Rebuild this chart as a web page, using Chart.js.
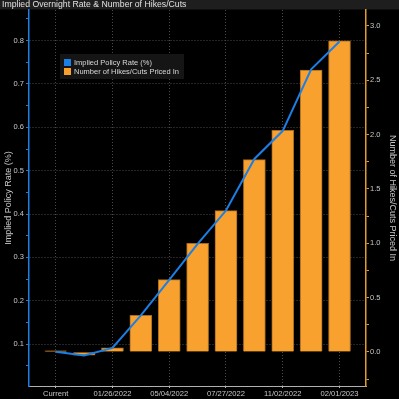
<!DOCTYPE html>
<html>
<head>
<meta charset="utf-8">
<script src="https://cdn.jsdelivr.net/npm/chart.js@4/dist/chart.umd.min.js"></script>
<style>
html,body{margin:0;padding:0;background:#000;}
canvas{display:block;}
</style>
</head>
<body>
<canvas id="c" width="399" height="399"></canvas>
<script>
// ---- data ----
const categories = ['Current', '', '01/26/2022', '', '05/04/2022', '', '07/27/2022', '', '11/02/2022', '', '02/01/2023'];
const impliedRate = [0.082, 0.0735, 0.091, 0.166, 0.248, 0.331, 0.408, 0.527, 0.592, 0.734, 0.798];
const hikesCuts = [0.01, -0.031, 0.037, 0.336, 0.665, 1.00, 1.30, 1.77, 2.04, 2.595, 2.864];
const xTickIdx = [0, 2, 4, 6, 8, 10];
const leftTicks = [0.05, 0.1, 0.15, 0.2, 0.25, 0.3, 0.35, 0.4, 0.45, 0.5, 0.55, 0.6, 0.65, 0.7, 0.75, 0.8, 0.85];
const rightTicks = [-0.25, 0, 0.25, 0.5, 0.75, 1.0, 1.25, 1.5, 1.75, 2.0, 2.25, 2.5, 2.75, 3.0];
const titleText = 'Implied Overnight Rate & Number of Hikes/Cuts';
const rateLabel = 'Implied Policy Rate (%)';
const hikesLabel = 'Number of Hikes/Cuts Priced In';

const BLUE = '#1b7fe6';
const ORANGE = '#f8a12e';
const TXT = '#c8c8c8';
const GRID = '#4a4a4a';

Chart.defaults.font.family = "'Liberation Sans', Arial, sans-serif";
Chart.defaults.color = TXT;

const isMult = (v, step) => Math.abs(v / step - Math.round(v / step)) < 1e-6;

const bgPlugin = {
  id: 'bg',
  beforeDraw(chart) {
    const ctx = chart.ctx;
    ctx.save();
    ctx.fillStyle = '#000';
    ctx.fillRect(0, 0, chart.width, chart.height);
    ctx.fillStyle = '#1e1e1e';
    ctx.fillRect(0, 0, chart.width, 9.5);
    ctx.restore();
  }
};

const legendPlugin = {
  id: 'boxLegend',
  afterDraw(chart) {
    const ctx = chart.ctx;
    const ds = chart.data.datasets;
    ctx.save();
    ctx.fillStyle = '#151515';
    ctx.fillRect(60, 54, 124, 25);
    ctx.font = "7.5px 'Liberation Sans', Arial, sans-serif";
    ctx.textBaseline = 'middle';
    ds.forEach((d, i) => {
      const y = 59 + i * 9;
      ctx.fillStyle = d.legendColor;
      ctx.fillRect(64, y, 7, 7);
      ctx.fillStyle = '#d8d8d8';
      ctx.fillText(d.label, 74, y + 3.7);
    });
    ctx.restore();
  }
};

new Chart(document.getElementById('c'), {
  type: 'bar',
  data: {
    datasets: [
      {
        type: 'line',
        label: rateLabel,
        data: impliedRate.map((v, i) => ({x: i, y: v})),
        yAxisID: 'y',
        borderColor: BLUE,
        legendColor: BLUE,
        borderWidth: 2,
        pointRadius: 0,
        tension: 0,
        order: 0
      },
      {
        type: 'bar',
        label: hikesLabel,
        data: hikesCuts.map((v, i) => ({x: i, y: v})),
        yAxisID: 'y1',
        backgroundColor: ORANGE,
        legendColor: ORANGE,
        borderColor: '#a86a1c',
        borderWidth: 1,
        barThickness: 22,
        order: 1
      }
    ]
  },
  options: {
    responsive: false,
    animation: false,
    layout: {padding: {left: 2, right: 0, top: 0, bottom: 0}},
    plugins: {
      legend: {display: false},
      tooltip: {enabled: false},
      title: {
        display: true,
        text: titleText,
        align: 'start',
        color: '#e0e0e0',
        font: {size: 8.7, weight: 'normal', lineHeight: 10 / 8.7},
        padding: {top: 0, bottom: 0}
      }
    },
    scales: {
      x: {
        type: 'linear',
        position: 'bottom',
        offset: false,
        min: -0.941,
        max: 10.933,
        afterFit(s) { s.height = 13; },
        afterBuildTicks(s) { s.ticks = xTickIdx.map(v => ({value: v})); },
        ticks: {
          callback: v => categories[v],
          font: {size: 7.6},
          color: TXT,
          padding: 1,
          maxRotation: 0,
          autoSkip: false
        },
        grid: {offset: false, color: GRID, tickLength: 2, tickColor: '#bbbbbb'},
        border: {color: '#b0b0b0', width: 1, dash: [1, 2]}
      },
      y: {
        type: 'linear',
        position: 'left',
        min: 0.0032,
        max: 0.8707,
        afterFit(s) { s.width = 27; },
        afterBuildTicks(s) { s.ticks = leftTicks.map(v => ({value: v})); },
        ticks: {
          callback: v => isMult(v, 0.1) ? v.toFixed(1) : '',
          font: {size: 7.5},
          color: TXT,
          padding: 2,
          autoSkip: false
        },
        grid: {
          color: c => (c.tick && isMult(c.tick.value, 0.1)) ? GRID : 'rgba(0,0,0,0)',
          tickColor: BLUE,
          tickLength: 3
        },
        border: {color: BLUE, width: 1.5, dash: [1, 2]},
        title: {
          display: true,
          text: rateLabel,
          color: TXT,
          font: {size: 9, lineHeight: 1.2},
          padding: {top: 1, bottom: 0}
        }
      },
      y1: {
        type: 'linear',
        position: 'right',
        min: -0.314,
        max: 3.147,
        afterFit(s) { s.width = 33; },
        afterBuildTicks(s) { s.ticks = rightTicks.map(v => ({value: v})); },
        ticks: {
          callback: v => isMult(v, 0.5) ? v.toFixed(1) : '',
          font: {size: 7.5},
          color: TXT,
          padding: 1,
          autoSkip: false
        },
        grid: {drawOnChartArea: false, tickColor: '#e39a2e', tickLength: 3},
        border: {color: '#e39a2e', width: 1.5},
        title: {
          display: true,
          text: hikesLabel,
          color: TXT,
          font: {size: 9, lineHeight: 1.2},
          padding: {top: 1, bottom: 0}
        }
      }
    }
  },
  plugins: [bgPlugin, legendPlugin]
});
</script>
</body>
</html>
